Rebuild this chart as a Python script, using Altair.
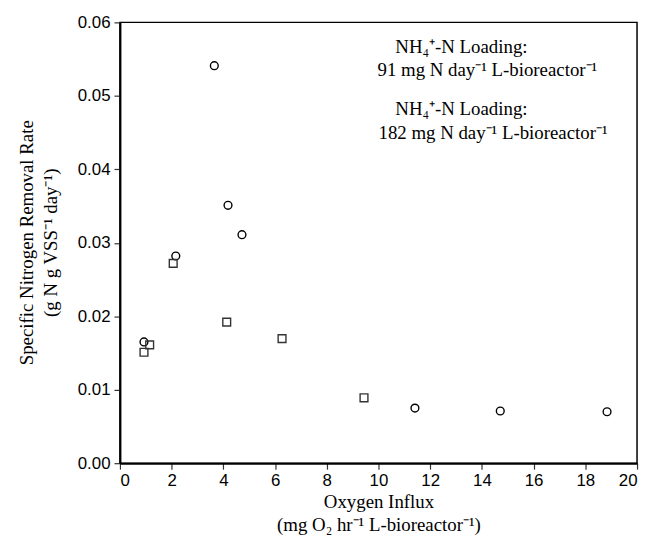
import altair as alt
import pandas as pd

series_names = ["91 mg N", "182 mg N"]

# circles
x_circle = [0.93, 2.16, 3.65, 4.18, 4.72, 11.41, 14.71, 18.84]
y_circle = [0.0165, 0.0282, 0.0541, 0.0351, 0.0311, 0.0075, 0.0071, 0.0070]
# squares
x_square = [0.93, 1.15, 2.06, 4.13, 6.27, 9.44]
y_square = [0.0151, 0.0161, 0.0272, 0.0192, 0.01695, 0.0089]

x_ticks = [0, 2, 4, 6, 8, 10, 12, 14, 16, 18, 20]
y_ticks = [0.00, 0.01, 0.02, 0.03, 0.04, 0.05, 0.06]

legend_lines = [
    "NH\u2084\u207a-N Loading:",
    "91 mg N day\u207b\u00b9 L-bioreactor\u207b\u00b9",
    "NH\u2084\u207a-N Loading:",
    "182 mg N day\u207b\u00b9 L-bioreactor\u207b\u00b9",
]

x_title = ["Oxygen Influx", "(mg O\u2082 hr\u207b\u00b9 L-bioreactor\u207b\u00b9)"]
y_title = ["Specific Nitrogen Removal Rate", "(g N g VSS\u207b\u00b9 day\u207b\u00b9)"]

df = pd.DataFrame({
    "x": x_circle + x_square,
    "y": y_circle + y_square,
    "series": [series_names[0]] * len(x_circle) + [series_names[1]] * len(x_square),
})

SERIF = "Liberation Serif"
SANS = "Liberation Sans"

points = alt.Chart(df).mark_point(filled=False, strokeWidth=1.4, size=62, opacity=1).encode(
    x=alt.X("x:Q",
            scale=alt.Scale(domain=[0, 20], nice=False, zero=False),
            axis=alt.Axis(values=x_ticks, title=x_title, format="d",
                          titleY=30, titleBaseline="top", titleLineHeight=23)),
    y=alt.Y("y:Q",
            scale=alt.Scale(domain=[0, 0.06], nice=False, zero=False),
            axis=alt.Axis(values=y_ticks, title=y_title, format=".2f",
                          titleX=-84, titleY=222, titleLineHeight=24)),
    shape=alt.Shape("series:N", scale=alt.Scale(domain=series_names, range=["circle", "square"]), legend=None),
    color=alt.Color("series:N", scale=alt.Scale(domain=series_names, range=["#000000", "#333333"]), legend=None),
)

legend_pos = [(278, 31), (260, 54), (278, 94), (261, 118)]
texts = []
for line, (px, py) in zip(legend_lines, legend_pos):
    texts.append(
        alt.Chart(pd.DataFrame({"t": [line]})).mark_text(
            align="left", baseline="alphabetic", font=SERIF, fontSize=19, color="#000000"
        ).encode(x=alt.value(px), y=alt.value(py), text="t:N")
    )

chart = alt.layer(points, *texts).properties(
    width=522,
    height=445,
    autosize=alt.AutoSizeParams(type="none"),
    padding={"left": 113, "top": 12, "right": 4, "bottom": 72},
).configure_view(
    stroke="#000000", strokeWidth=1.5
).configure_axis(
    grid=False,
    domainColor="#000000",
    domainWidth=2,
    tickColor="#333333",
    tickWidth=1.2,
    tickSize=6,
    labelFont=SANS,
    labelFontSize=17,
    labelColor="#000000",
    labelPadding=4,
    titleFont=SERIF,
    titleFontSize=19,
    titleFontWeight="normal",
    titleColor="#000000",
)

chart.save("out.html", embed_options={"renderer": "svg", "actions": False})
